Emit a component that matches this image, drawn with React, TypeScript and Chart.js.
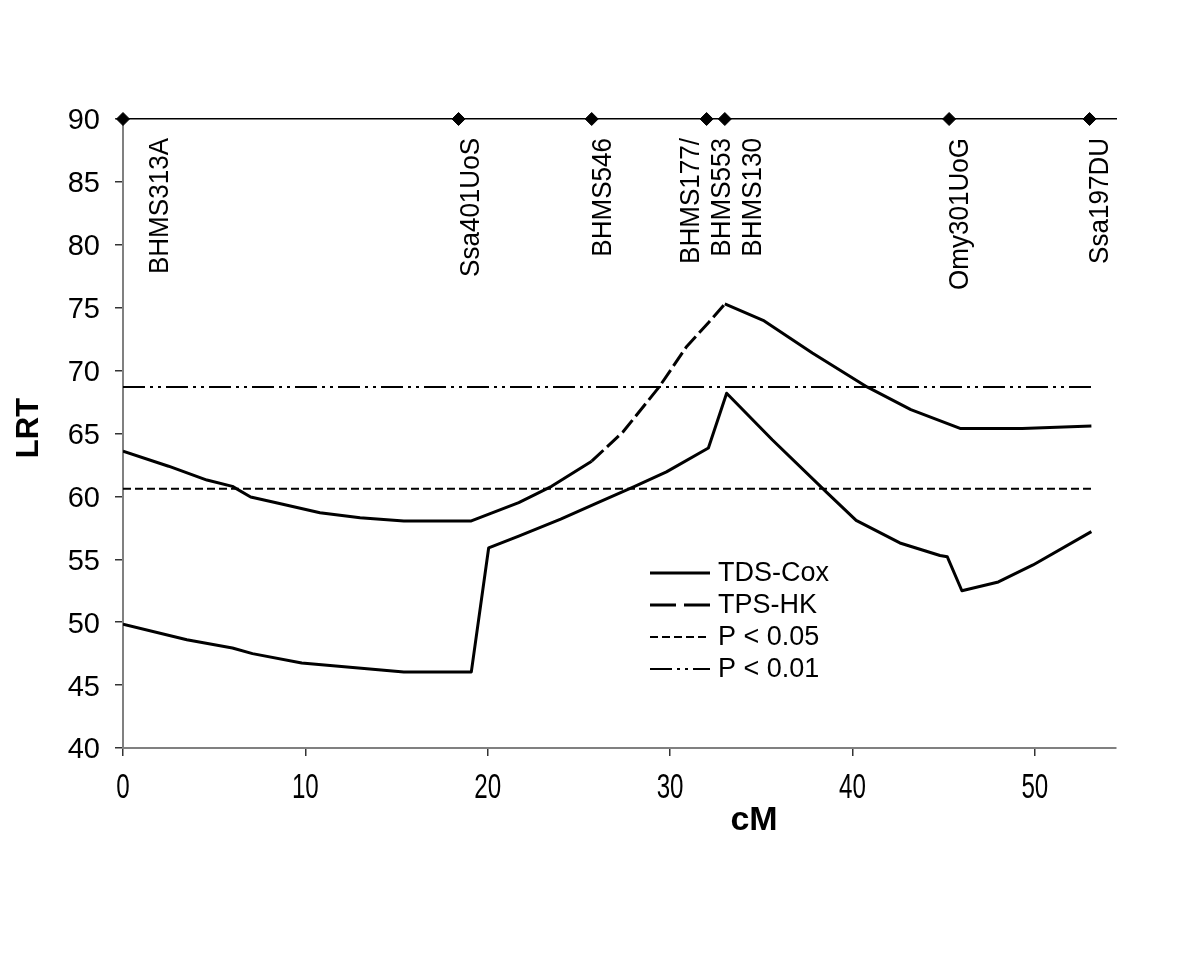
import React, { useEffect, useRef } from 'react';
import { Chart, registerables } from 'chart.js';

Chart.register(...registerables);

// ---------- data ----------
const hkX = [0, 2.5, 4.6, 6, 7, 8.4, 10.8, 13, 15.4, 19.1, 21.7, 23.5, 25.7, 27.4, 29.4, 30.9, 32.1, 33, 35.1, 37.8, 40.8, 43.2, 45.9, 49.3, 53.1];
const hkY = [63.6, 62.4, 61.3, 60.8, 59.95, 59.5, 58.7, 58.3, 58.05, 58.05, 59.5, 60.8, 62.8, 65.1, 68.7, 71.9, 73.8, 75.3, 74.0, 71.4, 68.7, 66.9, 65.4, 65.4, 65.6];

const coxX = [0, 3.5, 6, 7.1, 9.8, 12.6, 15.4, 19.1, 20.05, 21.7, 24, 26.1, 28, 29.8, 32.1, 33.1, 35.6, 38.6, 40.2, 42.6, 44.8, 45.2, 46, 48, 49.9, 53.1];
const coxY = [49.85, 48.6, 47.95, 47.5, 46.75, 46.4, 46.05, 46.05, 55.9, 56.85, 58.2, 59.55, 60.75, 61.95, 63.85, 68.2, 64.5, 60.3, 58.1, 56.3, 55.3, 55.2, 52.5, 53.2, 54.55, 57.2];

const markerNames = ['BHMS313A', 'Ssa401UoS', 'BHMS546', 'BHMS177/\nBHMS553', 'BHMS130', 'Omy301UoG', 'Ssa197DU'];
const markerPos = [0, 18.4, 25.7, 32.0, 33.0, 45.3, 53.0];
const markerLRT = 90;

const thresholdNames = ['P < 0.05', 'P < 0.01'];
const thresholdValues = [60.6, 68.7];
const thresholdStart = 0;
const thresholdEnd = 53.1;

const xTickValues = [0, 10, 20, 30, 40, 50];
const xMin = 0;
const xMax = 54.45;
const yMin = 40;
const yMax = 90;
const yStep = 5;
const xTitle = 'cM';
const yTitle = 'LRT';

// ---------- styles ----------
const FONT = '"Liberation Sans", Arial, Helvetica, sans-serif';
const markerLabelOffsets = [37, 13, 12, 0, 28, 11, 11];
const dashHK = [16, 5];
const dash05 = [8, 4];
const dash01 = [22, 5, 3, 5, 3, 5];

const overlayPlugin = {
  id: 'overlay',
  afterDatasetsDraw(chart: any) {
    const { ctx, scales } = chart;
    const x = scales.x;
    const y = scales.y;
    ctx.save();
    ctx.fillStyle = '#000';

    // x tick labels (tall, condensed)
    ctx.font = `35px ${FONT}`;
    ctx.textAlign = 'center';
    ctx.textBaseline = 'alphabetic';
    x.ticks.forEach((t: any) => {
      const px = x.getPixelForValue(t.value);
      ctx.save();
      ctx.translate(px, 798);
      ctx.scale(0.69, 1);
      ctx.fillText(String(t.value), 0, 0);
      ctx.restore();
    });

    // y tick labels
    ctx.font = `29px ${FONT}`;
    ctx.textAlign = 'right';
    y.ticks.forEach((t: any) => {
      const py = y.getPixelForValue(t.value);
      ctx.fillText(String(t.value), 100, py + 10.4);
    });

    // marker labels (rotated)
    ctx.font = `28px ${FONT}`;
    markerNames.forEach((name, i) => {
      const px = x.getPixelForValue(markerPos[i]) + markerLabelOffsets[i];
      const lines = name.split('\n');
      ctx.save();
      ctx.translate(px, 138);
      ctx.rotate(-Math.PI / 2);
      ctx.scale(0.93, 1);
      ctx.textAlign = 'right';
      ctx.textBaseline = 'middle';
      lines.forEach((ln, j) => ctx.fillText(ln, 0, (j - (lines.length - 1) / 2) * 31));
      ctx.restore();
    });

    // legend
    const items = [
      { label: chart.data.datasets[1].label, dash: [], w: 3 },
      { label: chart.data.datasets[0].label, dash: [26, 8], w: 3 },
      { label: thresholdNames[0], dash: dash05, w: 2 },
      { label: thresholdNames[1], dash: dash01, w: 2 },
    ];
    ctx.font = `27px ${FONT}`;
    ctx.textAlign = 'left';
    ctx.textBaseline = 'middle';
    items.forEach((it, i) => {
      const yy = 573 + i * 32;
      ctx.save();
      ctx.strokeStyle = '#000';
      ctx.lineWidth = it.w;
      ctx.setLineDash(it.dash);
      ctx.beginPath();
      ctx.moveTo(650, yy);
      ctx.lineTo(710, yy);
      ctx.stroke();
      ctx.restore();
      ctx.fillText(it.label, 718, yy + 1);
    });

    // axis titles
    ctx.font = `bold 34px ${FONT}`;
    ctx.textAlign = 'center';
    ctx.textBaseline = 'alphabetic';
    ctx.fillText(xTitle, 754, 830);
    ctx.font = `bold 31px ${FONT}`;
    ctx.save();
    ctx.translate(38, 428);
    ctx.rotate(-Math.PI / 2);
    ctx.fillText(yTitle, 0, 0);
    ctx.restore();
    ctx.restore();
  },
};

export default function App() {
  const ref = useRef<HTMLCanvasElement | null>(null);
  useEffect(() => {
    if (!ref.current) return;
    const pts = (xs: number[], ys: number[]) => xs.map((v, i) => ({ x: v, y: ys[i] }));
    const chart = new Chart(ref.current, {
      type: 'line',
      data: {
        datasets: [
          {
            label: 'TPS-HK',
            data: pts(hkX, hkY),
            borderColor: '#000',
            borderWidth: 3,
            pointRadius: 0,
            tension: 0,
            borderJoinStyle: 'round',
            segment: {
              borderDash: (c: any) => (c.p0.parsed.x >= 25.5 && c.p1.parsed.x <= 33.05 ? dashHK : undefined),
            },
          },
          {
            label: 'TDS-Cox',
            data: pts(coxX, coxY),
            borderColor: '#000',
            borderWidth: 3,
            pointRadius: 0,
            tension: 0,
            borderJoinStyle: 'round',
          },
          {
            label: thresholdNames[0],
            data: [
              { x: thresholdStart, y: thresholdValues[0] },
              { x: thresholdEnd, y: thresholdValues[0] },
            ],
            borderColor: '#000',
            borderWidth: 2,
            borderDash: dash05,
            pointRadius: 0,
          },
          {
            label: thresholdNames[1],
            data: [
              { x: thresholdStart, y: thresholdValues[1] },
              { x: thresholdEnd, y: thresholdValues[1] },
            ],
            borderColor: '#000',
            borderWidth: 2,
            borderDash: dash01,
            pointRadius: 0,
          },
          {
            label: 'markers',
            data: markerPos.map((v) => ({ x: v, y: markerLRT })),
            showLine: false,
            pointStyle: 'rectRot',
            pointRadius: 6.5,
            pointBackgroundColor: '#000',
            pointBorderColor: '#000',
            clip: false as any,
          },
        ],
      },
      options: {
        animation: false,
        responsive: false,
        devicePixelRatio: 1,
        layout: { padding: { left: 0, top: 119, right: 84, bottom: 0 } },
        plugins: { legend: { display: false }, tooltip: { enabled: false } },
        scales: {
          x: {
            type: 'linear',
            min: xMin,
            max: xMax,
            afterBuildTicks: (s: any) => {
              s.ticks = xTickValues.map((v) => ({ value: v }));
            },
            afterFit: (s: any) => {
              s.height = 209;
            },
            border: { color: '#808080', width: 2 },
            grid: { drawOnChartArea: false, drawTicks: true, tickLength: 8, color: '#333', lineWidth: 1.5 },
            ticks: { display: false },
          },
          x2: {
            type: 'linear',
            position: 'top',
            min: xMin,
            max: xMax,
            afterBuildTicks: (s: any) => {
              s.ticks = [];
            },
            afterFit: (s: any) => {
              s.height = 0;
            },
            border: { color: '#000', width: 1.5 },
            grid: { drawOnChartArea: false, drawTicks: false },
            ticks: { display: false },
          },
          y: {
            type: 'linear',
            min: yMin,
            max: yMax,
            ticks: { stepSize: yStep, display: false },
            afterFit: (s: any) => {
              s.width = 123;
            },
            border: { color: '#808080', width: 2 },
            grid: { drawOnChartArea: false, drawTicks: true, tickLength: 8, color: '#333', lineWidth: 1.5 },
          },
        },
      },
      plugins: [overlayPlugin],
    } as any);
    return () => chart.destroy();
  }, []);
  return (
    <canvas
      ref={ref}
      width={1200}
      height={957}
      style={{ position: 'fixed', left: 0, top: 0, width: 1200, height: 957, background: '#fff' }}
    />
  );
}
